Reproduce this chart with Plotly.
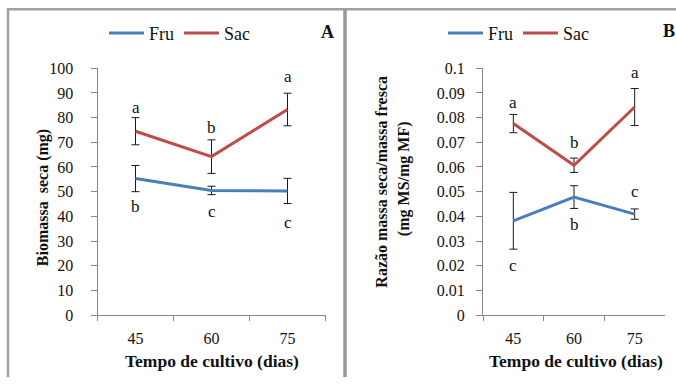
import plotly.graph_objects as go

# Culture time (days)
days = ["45", "60", "75"]

# Panel A: dry biomass (mg)
biomass_fru = [55.3, 50.5, 50.3]
biomass_fru_err = [5.3, 1.7, 5.1]
biomass_sac = [74.5, 64.2, 83.3]
biomass_sac_err = [5.5, 6.8, 6.6]
biomass_fru_letters = ["b", "c", "c"]
biomass_sac_letters = ["a", "b", "a"]
biomass_fru_letter_y = [43.9, 41.9, 37.4]
biomass_sac_letter_y = [84.1, 76.0, 96.7]

# Panel B: dry/fresh mass ratio (mg MS/mg MF)
ratio_fru = [0.0382, 0.0478, 0.0409]
ratio_fru_err = [0.0115, 0.0046, 0.0021]
ratio_sac = [0.0776, 0.0607, 0.0843]
ratio_sac_err = [0.0037, 0.0029, 0.0075]
ratio_fru_letters = ["c", "b", "c"]
ratio_sac_letters = ["a", "b", "a"]
ratio_fru_letter_y = [0.0199, 0.0366, 0.0500]
ratio_sac_letter_y = [0.0862, 0.0699, 0.0984]

ratio_ticks = [0, 0.01, 0.02, 0.03, 0.04, 0.05, 0.06, 0.07, 0.08, 0.09, 0.1]
ratio_tick_text = ["0", "0.01", "0.02", "0.03", "0.04", "0.05", "0.06", "0.07", "0.08", "0.09", "0.1"]

W, H = 676, 386
BLUE = "#4A7EBB"
RED = "#BE4B48"
AXIS = "#868686"
FONT = "'Times New Roman', 'Liberation Serif', serif"
INK = "#111111"

# vertical page placement: the figure sits slightly inset and scaled on the page
V_SCALE = 0.953
V_OFFSET = 8.9


def px(x):
    return x / W


def py(y):
    return 1 - ((y - V_OFFSET) / V_SCALE) / H


fig = go.Figure()


def add_series(x, y, err, name, color, xa, ya, legend):
    fig.add_trace(go.Scatter(
        x=x, y=y, name=name, mode="lines",
        line=dict(color=color, width=3),
        error_y=dict(type="data", array=err, visible=True,
                     color="#1a1a1a", thickness=1, width=4),
        xaxis=xa, yaxis=ya, legend=legend,
    ))


add_series(days, biomass_fru, biomass_fru_err, "Fru", BLUE, "x", "y", "legend")
add_series(days, biomass_sac, biomass_sac_err, "Sac", RED, "x", "y", "legend")
add_series(days, ratio_fru, ratio_fru_err, "Fru", BLUE, "x2", "y2", "legend2")
add_series(days, ratio_sac, ratio_sac_err, "Sac", RED, "x2", "y2", "legend2")

tick_font = dict(family=FONT, size=16, color=INK)
common_x = dict(type="category", range=[-0.5, 2.5], showline=True, linecolor=AXIS,
                linewidth=1, ticks="outside", ticklen=5, tickcolor=AXIS,
                tickson="boundaries", showgrid=False, zeroline=False,
                tickfont=tick_font, ticklabelstandoff=9, fixedrange=True)
common_y = dict(showline=True, linecolor=AXIS, linewidth=1, ticks="outside",
                ticklen=6, tickcolor=AXIS, showgrid=False, zeroline=False,
                tickfont=tick_font, fixedrange=True)

legend_font = dict(family=FONT, size=18, color=INK)
legend_common = dict(orientation="h", xanchor="left", yanchor="middle", font=legend_font,
                     itemwidth=35, entrywidth=25, entrywidthmode="pixels",
                     bgcolor="rgba(0,0,0,0)", itemclick=False, itemdoubleclick=False)
fig.update_layout(
    width=W, height=H,
    margin=dict(l=0, r=0, t=0, b=0),
    paper_bgcolor="white", plot_bgcolor="white",
    font=dict(family=FONT, size=16, color=INK),
    xaxis=dict(domain=[px(97.5), px(325.5)], anchor="y", **common_x),
    yaxis=dict(domain=[py(315), py(69)], anchor="x", range=[0, 100],
               dtick=10, ticklabelstandoff=14, **common_y),
    xaxis2=dict(domain=[px(483), px(665)], anchor="y2", **common_x),
    yaxis2=dict(domain=[py(315), py(69)], anchor="x2", range=[0, 0.1],
                tickvals=ratio_ticks, ticktext=ratio_tick_text,
                ticklabelstandoff=8, **common_y),
    legend=dict(x=px(104), y=py(34), **legend_common),
    legend2=dict(x=px(443), y=py(34), **legend_common),
    showlegend=True,
)

annotations = []


def letters(texts, ys, xref, yref):
    # category axes take annotation positions as category indices
    for i, (t, y) in enumerate(zip(texts, ys)):
        annotations.append(dict(x=i, y=y, xref=xref, yref=yref, text=t,
                                showarrow=False, font=dict(family=FONT, size=17, color=INK),
                                xanchor="center", yanchor="middle"))


letters(biomass_sac_letters, biomass_sac_letter_y, "x", "y")
letters(biomass_fru_letters, biomass_fru_letter_y, "x", "y")
letters(ratio_sac_letters, ratio_sac_letter_y, "x2", "y2")
letters(ratio_fru_letters, ratio_fru_letter_y, "x2", "y2")

title_font = dict(family=FONT, size=16, color=INK)
xtitle_font = dict(family=FONT, size=17.5, color=INK)


def paper_text(text, x, y, angle=0, font=title_font):
    annotations.append(dict(x=px(x), y=py(y), xref="paper", yref="paper", text=text,
                            showarrow=False, textangle=angle, font=font,
                            xanchor="center", yanchor="middle"))


paper_text("<b>Tempo de cultivo (dias)</b>", 212, 361, font=xtitle_font)
paper_text("<b>Tempo de cultivo (dias)</b>", 576, 361, font=xtitle_font)
paper_text("<b>Biomassa  seca (mg)</b>", 42.5, 198, angle=-90)
paper_text("<b>Razão massa seca/massa fresca</b>", 381.5, 182.5, angle=-90)
paper_text("<b>(mg MS/mg MF)</b>", 403.5, 179, angle=-90)
paper_text("<b>A</b>", 327, 33, font=dict(family=FONT, size=18, color=INK))
paper_text("<b>B</b>", 669, 32, font=dict(family=FONT, size=18, color=INK))

fig.update_layout(annotations=annotations)

# Panel frames
top = 1 - 1.3 / H
frame = dict(type="line", xref="paper", yref="paper", layer="above")
fig.add_shape(x0=px(7), x1=1, y0=top, y1=top,
              line=dict(color="#a0a0a0", width=2.5), **frame)
fig.add_shape(x0=px(8), x1=px(8), y0=top, y1=0,
              line=dict(color="#a0a0a0", width=2.5), **frame)
fig.add_shape(x0=px(345), x1=px(345), y0=top, y1=0,
              line=dict(color="#999999", width=3.5), **frame)

fig.write_html("out.html")
